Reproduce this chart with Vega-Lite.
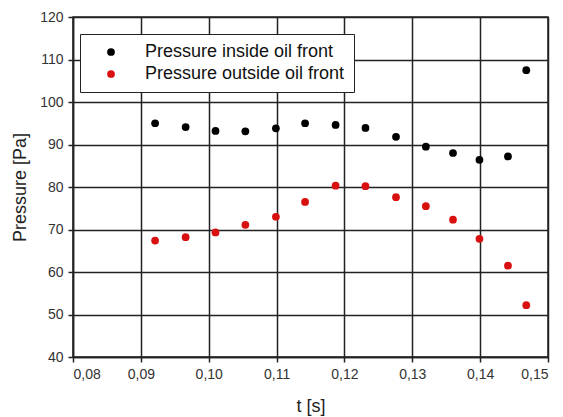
{
  "$schema": "https://vega.github.io/schema/vega-lite/v6.json",
  "width": 475,
  "height": 340,
  "autosize": "none",
  "padding": {"left": 73, "top": 17, "right": 15, "bottom": 60},
  "background": "white",
  "data": {
    "values": [
      {"t": 0.0921, "p": 95.0, "series": "Pressure inside oil front"},
      {"t": 0.0966, "p": 94.1, "series": "Pressure inside oil front"},
      {"t": 0.1010, "p": 93.2, "series": "Pressure inside oil front"},
      {"t": 0.1054, "p": 93.1, "series": "Pressure inside oil front"},
      {"t": 0.1099, "p": 93.8, "series": "Pressure inside oil front"},
      {"t": 0.1142, "p": 95.0, "series": "Pressure inside oil front"},
      {"t": 0.1187, "p": 94.6, "series": "Pressure inside oil front"},
      {"t": 0.1231, "p": 93.9, "series": "Pressure inside oil front"},
      {"t": 0.1276, "p": 91.8, "series": "Pressure inside oil front"},
      {"t": 0.1320, "p": 89.5, "series": "Pressure inside oil front"},
      {"t": 0.1360, "p": 88.0, "series": "Pressure inside oil front"},
      {"t": 0.1399, "p": 86.4, "series": "Pressure inside oil front"},
      {"t": 0.1441, "p": 87.2, "series": "Pressure inside oil front"},
      {"t": 0.1468, "p": 107.5, "series": "Pressure inside oil front"},
      {"t": 0.0921, "p": 67.4, "series": "Pressure outside oil front"},
      {"t": 0.0966, "p": 68.2, "series": "Pressure outside oil front"},
      {"t": 0.1010, "p": 69.3, "series": "Pressure outside oil front"},
      {"t": 0.1054, "p": 71.1, "series": "Pressure outside oil front"},
      {"t": 0.1099, "p": 73.0, "series": "Pressure outside oil front"},
      {"t": 0.1142, "p": 76.5, "series": "Pressure outside oil front"},
      {"t": 0.1187, "p": 80.3, "series": "Pressure outside oil front"},
      {"t": 0.1231, "p": 80.2, "series": "Pressure outside oil front"},
      {"t": 0.1276, "p": 77.6, "series": "Pressure outside oil front"},
      {"t": 0.1320, "p": 75.5, "series": "Pressure outside oil front"},
      {"t": 0.1360, "p": 72.3, "series": "Pressure outside oil front"},
      {"t": 0.1399, "p": 67.8, "series": "Pressure outside oil front"},
      {"t": 0.1441, "p": 61.5, "series": "Pressure outside oil front"},
      {"t": 0.1468, "p": 52.2, "series": "Pressure outside oil front"}
    ]
  },
  "mark": {"type": "point", "filled": true, "shape": "circle", "size": 60, "opacity": 1},
  "encoding": {
    "x": {
      "field": "t", "type": "quantitative", "title": "t [s]",
      "scale": {"domain": [0.08, 0.15], "nice": false, "zero": false},
      "axis": {
        "values": [0.08, 0.09, 0.10, 0.11, 0.12, 0.13, 0.14, 0.15],
        "labelExpr": "replace(format(datum.value, '.2f'), '.', ',')",
        "titlePadding": 16
      }
    },
    "y": {
      "field": "p", "type": "quantitative", "title": "Pressure [Pa]",
      "scale": {"domain": [40, 120], "nice": false, "zero": false},
      "axis": {
        "values": [40, 50, 60, 70, 80, 90, 100, 110, 120],
        "titlePadding": 10
      }
    },
    "color": {
      "field": "series", "type": "nominal",
      "scale": {"domain": ["Pressure inside oil front", "Pressure outside oil front"], "range": ["#000000", "#d81010"]},
      "legend": {
        "title": null,
        "orient": "none",
        "legendX": 7,
        "legendY": 17,
        "fillColor": "white",
        "strokeColor": "#222222",
        "padding": 9,
        "symbolOffset": 13,
        "symbolType": "circle",
        "symbolSize": 60,
        "symbolStrokeWidth": 0,
        "labelFont": "Liberation Sans",
        "labelFontSize": 18,
        "labelColor": "#111111",
        "labelOffset": 25,
        "rowPadding": 4,
        "labelLimit": 400
      }
    }
  },
  "config": {
    "view": {"stroke": "#222222", "strokeWidth": 1.5},
    "axis": {
      "domainColor": "#222222",
      "domainWidth": 1.5,
      "gridColor": "#222222",
      "gridWidth": 1.5,
      "gridOpacity": 1,
      "tickColor": "#222222",
      "tickWidth": 1.5,
      "tickSize": 5,
      "labelFont": "Liberation Sans",
      "labelFontSize": 14,
      "labelColor": "#333333",
      "labelPadding": 5,
      "titleFont": "Liberation Sans",
      "titleFontSize": 18,
      "titleFontWeight": "normal",
      "titleColor": "#222222"
    }
  }
}
